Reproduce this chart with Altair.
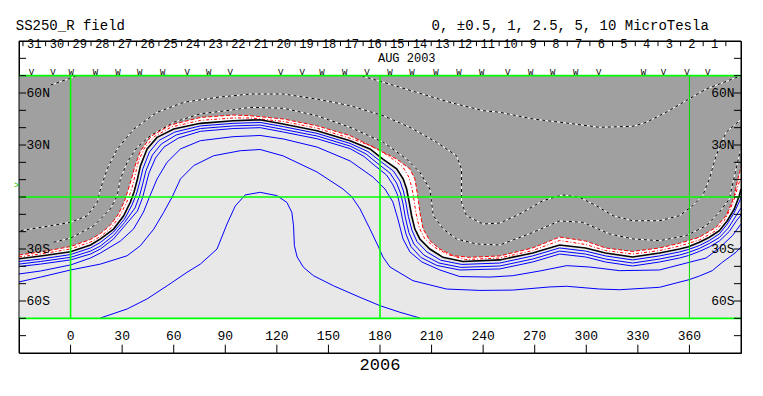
import altair as alt
import pandas as pd

# ---------------- contour lines (longitude, latitude) ----------------
# neutral line (0)
N_LON = [-30, -17.4, 0, 11.6, 17.4, 25.0, 30.8, 34.8, 36.9, 38.9, 40.6, 44.5, 50.3, 60.0, 75.5, 94.6, 110.3, 123.7, 143.4, 162.6, 174.2, 181.7, 189.7, 193.5, 195.5, 197.0, 198.4, 200.3, 203.2, 209.0, 216.6, 228.2, 249.7, 268.8, 284.5, 299.6, 311.2, 326.9, 342.6, 354.2, 359.4, 365.8, 371.6, 377.4, 382.0, 386.1, 389.0, 390]
N_LAT = [-35.6, -34.0, -31.6, -27.7, -24.2, -18.5, -11.0, -2.9, 2.9, 10.4, 17.9, 27.7, 34.4, 39.2, 42.5, 44.0, 44.6, 42.1, 38.2, 32.5, 27.7, 21.9, 16.2, 10.4, 4.6, -3.1, -10.8, -18.5, -24.2, -30.0, -34.8, -37.2, -36.3, -32.3, -27.7, -29.4, -32.3, -34.6, -32.3, -30.0, -28.7, -26.1, -23.2, -19.4, -13.7, -6.9, 0.75, 4.6]

# negative contours (red)
R1_LON = [-30, -17.4, 0, 11.6, 17.4, 23.2, 27.9, 31.4, 33.1, 35.4, 37.5, 40.6, 47.0, 58.1, 75.5, 94.6, 104.5, 123.8, 143.2, 162.6, 178.1, 189.7, 197.4, 200.3, 201.3, 202.2, 203.2, 205.1, 209.0, 214.8, 222.6, 232.3, 249.7, 268.8, 284.5, 299.6, 311.2, 326.9, 342.6, 354.2, 365.8, 375.5, 381.3, 384.4, 386.1, 387.8, 390]
R1_LAT = [-33.5, -31.7, -28.6, -24.5, -21.1, -16.2, -9.8, -2.3, 2.9, 10.4, 17.9, 26.5, 35.2, 41.5, 45.9, 47.3, 46.9, 45.0, 41.1, 35.4, 27.7, 21.9, 16.2, 10.4, 4.6, -1.2, -8.8, -18.5, -25.2, -30.0, -33.9, -34.8, -34.0, -29.4, -23.1, -25.4, -29.4, -31.4, -29.4, -26.7, -23.2, -17.5, -10.8, -4.0, 0.75, 8.7, 17.3]
R2_LON = [-30, -17.4, 0, 11.6, 17.4, 23.2, 27.9, 31.4, 34.0, 36.0, 37.7, 39.5, 43.0, 48.8, 58.6, 75.5, 94.6, 104.5, 123.7, 143.4, 162.6, 176.0, 185.8, 193.3, 196.8, 198.6, 199.7, 200.9, 202.9, 206.1, 211.9, 219.5, 229.9, 249.7, 268.8, 284.5, 299.6, 311.2, 326.9, 342.6, 354.2, 365.8, 375.1, 380.3, 383.8, 386.1, 388.4, 390]
R2_LAT = [-34.6, -32.9, -30.0, -26.0, -22.8, -18.2, -12.1, -5.5, 0, 6.3, 13.3, 20.8, 28.3, 34.9, 40.4, 44.2, 45.6, 45.6, 43.6, 39.7, 33.9, 29.1, 23.1, 17.3, 11.5, 5.2, -1.2, -9.2, -17.9, -24.2, -29.1, -33.2, -36.1, -35.2, -30.9, -25.1, -27.4, -30.9, -32.9, -30.9, -28.3, -24.8, -19.6, -13.6, -6.9, -1.2, 6.9, 11.5]

# positive contours (blue)
B1_LON = [-30, -17.4, 0, 11.6, 17.4, 25.0, 31.4, 35.7, 38.3, 40.4, 42.1, 45.9, 51.4, 60.7, 75.5, 94.6, 110.3, 123.7, 143.4, 162.6, 173.0, 180.0, 187.8, 191.6, 193.6, 195.1, 196.5, 198.6, 201.5, 207.3, 215.4, 227.6, 249.7, 268.8, 284.5, 299.6, 311.2, 326.9, 342.6, 354.2, 359.4, 365.8, 371.6, 377.4, 382.0, 386.1, 390]
B1_LAT = [-37.2, -35.8, -33.2, -29.4, -26.2, -20.2, -12.7, -4.6, 1.7, 9.2, 16.4, 26.0, 32.6, 37.5, 41.0, 42.5, 43.0, 40.6, 36.7, 30.9, 26.2, 20.8, 15.0, 9.2, 3.5, -3.5, -11.2, -19.3, -25.7, -31.7, -36.5, -38.9, -38.1, -34.0, -29.4, -31.2, -34.0, -36.3, -34.0, -31.7, -30.3, -28.0, -25.1, -21.3, -15.6, -8.9, -0.6]
B2_LON = [-30, -17.4, 0, 11.6, 17.4, 25.0, 31.4, 37.5, 40.1, 42.1, 43.8, 47.6, 52.8, 61.5, 75.5, 94.6, 110.3, 123.7, 143.4, 162.6, 171.9, 178.3, 185.8, 189.6, 191.9, 193.4, 194.8, 196.8, 199.7, 205.5, 214.3, 227.0, 249.7, 268.8, 284.5, 299.6, 311.2, 326.9, 342.6, 354.2, 359.4, 365.8, 371.6, 377.4, 382.6, 386.7, 390]
B2_LAT = [-38.7, -37.2, -34.8, -31.2, -28.3, -22.2, -14.7, -6.3, 0.6, 8.1, 15.0, 24.2, 30.6, 35.8, 39.5, 41.0, 41.5, 39.0, 35.2, 29.4, 24.8, 19.6, 13.8, 8.1, 2.3, -4.0, -12.1, -20.5, -27.1, -33.5, -38.1, -40.6, -39.8, -35.8, -31.2, -32.9, -35.8, -38.1, -35.8, -33.5, -32.0, -29.7, -26.8, -23.4, -17.9, -11.5, -6.3]
B3_LON = [-30, -17.4, 0, 11.6, 17.4, 25.0, 31.4, 38.9, 41.8, 43.8, 45.6, 49.4, 54.3, 62.7, 75.5, 94.6, 110.3, 123.7, 143.4, 162.6, 170.7, 176.5, 183.8, 187.6, 190.2, 191.6, 193.1, 195.1, 198.0, 203.8, 213.1, 226.4, 249.7, 268.8, 284.5, 299.6, 311.2, 326.9, 342.6, 354.2, 359.4, 365.8, 371.6, 377.4, 383.2, 387.3, 390]
B3_LAT = [-40.1, -38.7, -36.3, -32.9, -30.0, -24.2, -16.7, -8.1, -0.6, 6.9, 13.8, 22.5, 28.8, 34.0, 37.9, 39.5, 40.0, 37.5, 33.6, 27.9, 23.4, 18.5, 12.7, 6.9, 1.2, -5.2, -13.0, -21.3, -28.6, -34.9, -39.5, -42.1, -41.5, -37.5, -32.9, -34.6, -37.5, -39.8, -37.5, -35.2, -33.8, -31.4, -28.8, -25.4, -19.9, -13.8, -10.4]
B4_LON = [-30, -17.4, 0, 11.6, 17.4, 29.0, 36.6, 42.4, 45.9, 50.3, 56.1, 63.9, 75.5, 94.6, 110.3, 123.7, 143.4, 162.6, 175.9, 182.9, 187.5, 190.4, 193.4, 197.4, 204.4, 214.8, 226.4, 243.9, 257.2, 272.9, 288.6, 302.0, 319.4, 342.6, 359.8, 369.7, 377.4, 385.0, 390]
B4_LAT = [-44.4, -42.7, -39.2, -35.2, -32.3, -25.4, -18.5, -8.7, 0, 10.4, 20.0, 27.7, 32.5, 34.8, 35.5, 33.5, 28.8, 20.8, 11.5, 4.6, -2.9, -12.7, -24.2, -31.7, -37.5, -42.1, -45.9, -46.2, -45.4, -42.7, -39.6, -40.4, -42.5, -42.1, -37.7, -35.2, -29.4, -22.3, -15.6]
B5_LON = [-30, -17.4, 0, 17.4, 32.9, 40.6, 48.4, 54.2, 59.1, 63.9, 71.6, 83.2, 98.7, 110.3, 123.7, 143.4, 158.5, 163.7, 168.4, 174.2, 178.9, 181.7, 185.8, 199.2, 218.7, 238.1, 257.2, 278.7, 288.6, 307.8, 319.4, 342.6, 359.8, 365.8, 373.3, 379.1, 387.1, 390]
B5_LAT = [-49.0, -46.2, -42.1, -38.7, -33.9, -28.1, -18.5, -8.8, 0, 10.4, 18.1, 23.8, 26.7, 27.4, 23.7, 14.4, 4.6, 0, -6.9, -18.5, -28.3, -34.6, -40.4, -48.3, -53.1, -53.9, -53.7, -51.9, -51.5, -53.1, -53.5, -52.1, -47.7, -45.6, -42.5, -37.7, -31.9, -28.8]
B6_LON = [17.4, 32.9, 44.5, 56.2, 67.8, 75.5, 85.2, 91.0, 95.8, 101.6, 110.3, 120.0, 125.8, 128.7, 129.7, 130.2, 131.8, 135.5, 141.3, 152.9, 168.4, 180.0, 191.6, 203.2]
B6_LAT = [-69.8, -64.6, -58.8, -51.2, -43.4, -38.7, -30.0, -15.6, -5.2, 1.2, 2.7, 0.8, -3.1, -8.8, -16.6, -28.1, -34.6, -40.6, -45.4, -51.2, -57.9, -62.7, -66.5, -69.8]

# stronger negative contours (black/white dashed)
D1_LON = [-9.9, 0, 13.5, 23.2, 27.1, 29.0, 32.9, 38.7, 46.5, 60.0, 75.5, 94.8, 104.5, 123.9, 143.2, 162.6, 181.9, 195.5, 203.2, 209.0, 210.0, 211.0, 216.8, 224.5, 236.1, 249.7, 269.0, 284.5, 298.0, 313.5, 327.1, 342.6, 358.1, 369.7, 377.4, 383.2, 387.1, 389.6]
D1_LAT = [-26.1, -23.7, -16.6, -6.9, 0.75, 10.4, 20.0, 28.7, 35.4, 43.1, 48.0, 50.3, 51.7, 51.2, 46.9, 40.2, 31.6, 21.9, 14.2, 4.6, -3.1, -10.8, -18.5, -24.2, -27.1, -27.7, -20.4, -13.8, -14.6, -21.3, -24.2, -25.2, -22.3, -16.6, -8.8, -1.2, 16.2, 26.5]
D2_LON = [-29.0, -11.6, 0, 9.7, 15.5, 17.4, 21.3, 27.1, 36.8, 50.3, 65.8, 85.2, 104.5, 123.9, 143.2, 162.6, 181.9, 197.4, 212.9, 224.5, 227.4, 227.4, 230.3, 240.0, 249.7, 261.3, 274.8, 286.4, 296.1, 305.8, 315.5, 327.1, 342.6, 354.2, 361.9, 367.7, 371.6, 375.5, 381.3, 389.6]
D2_LAT = [-19.4, -16.6, -14.6, -10.8, -3.1, 4.6, 16.2, 27.7, 39.2, 48.9, 54.6, 57.5, 59.4, 59.4, 56.5, 52.7, 46.9, 40.2, 31.6, 23.8, 16.2, -3.1, -10.8, -15.6, -15.0, -9.8, -2.1, 1.2, -0.2, -5.0, -10.8, -13.7, -13.7, -10.8, -5.0, 0.75, 10.4, 23.8, 37.3, 44.4]
D3_LON = [169.5, 181.9, 201.3, 220.6, 240.0, 249.7, 269.0, 288.4, 307.8, 327.1, 334.9, 346.5, 358.1, 369.7, 377.4, 389.6]
D3_LAT = [69.8, 66.2, 60.4, 54.6, 49.8, 48.9, 45.0, 42.7, 40.2, 40.8, 43.1, 48.9, 55.6, 62.3, 65.2, 69.8]
D4_LON = [-11.6, -9.9, 0, 2.9]
D4_LAT = [64.6, 65.2, 68.5, 69.8]

# ---------------- axes / header ----------------
LAT_TICKS = [-80, -70, -60, -50, -40, -30, -20, -10, 0, 10, 20, 30, 40, 50, 60, 70, 80]
LAT_LABEL_VALUES = [60, 30, -30, -60]
LAT_LABELS = ["60N", "30N", "30S", "60S"]
LON_TICKS = [0, 30, 60, 90, 120, 150, 180, 210, 240, 270, 300, 330, 360]
GREEN_LON = [0, 180]
GREEN_LAT = [-70, 0, 70]

DAYS = ["31", "30", "29", "28", "27", "26", "25", "24", "23", "22", "21", "20", "19", "18", "17", "16",
        "15", "14", "13", "12", "11", "10", "9", "8", "7", "6", "5", "4", "3", "2", "1"]
DAY_LON = [-21.1, -7.9, 5.3, 18.5, 31.7, 44.9, 58.1, 71.2, 84.4, 97.6, 110.8, 124.0, 137.2, 150.4, 163.6, 176.8,
           190.0, 203.2, 216.3, 229.5, 242.7, 255.9, 269.1, 282.3, 295.5, 308.7, 321.9, 335.1, 348.3, 361.4, 374.6]
DAY_SEP_LON = [-27.7, -14.5, -1.3, 11.9, 25.1, 38.3, 51.4, 64.6, 77.8, 91.0, 104.2, 117.4, 130.6, 143.8, 157.0, 170.2,
               183.4, 196.6, 209.8, 222.9, 236.1, 249.3, 262.5, 275.7, 288.9, 302.1, 315.3, 328.5, 341.7, 354.9, 368.0, 381.2]
SECTOR_LON = [-22.8, -10.3, 0.4, 14.5, 27.5, 40.2, 53.6, 67.8, 80.3, 92.9, 122.3, 134.7, 146.3, 159.4, 172.4, 185.8,
              198.6, 212.5, 225.9, 239.2, 254.3, 267.7, 280.4, 293.8, 307.2, 333.3, 344.9, 358.5, 370.6]
SECTOR = ["V", "V", "W", "W", "W", "W", "W", "V", "W", "V", "V", "V", "W", "W", "V", "W",
          "W", "W", "W", "W", "V", "W", "W", "W", "V", "W", "V", "V", "V"]

FONT = "Liberation Mono"


def line_frame(name, lons, lats):
    n = min(len(lons), len(lats))
    return pd.DataFrame({"line": [name] * n, "i": list(range(n)),
                         "lon": list(lons[:n]), "lat": list(lats[:n])})


XS = alt.Scale(domain=[-30, 390], nice=False, zero=False)
YS = alt.Scale(domain=[-90, 90], nice=False, zero=False)


def X(f="lon"):
    return alt.X(f"{f}:Q", scale=XS, axis=None)


def Y(f="lat"):
    return alt.Y(f"{f}:Q", scale=YS, axis=None)


layers = []

# light background of the map
bg = pd.DataFrame({"lon": [-30], "lon2": [390], "lat": [-70], "lat2": [70]})
layers.append(alt.Chart(bg).mark_rect(color="#e8e8e8").encode(x=X(), x2="lon2:Q", y=Y(), y2="lat2:Q"))

# white band: above neutral line
n_df = line_frame("N", N_LON, N_LAT)
n_df["top"] = 70
layers.append(alt.Chart(n_df).mark_area(color="#ffffff", opacity=1).encode(x=X(), y=Y(), y2="top:Q"))

# dark grey negative region: above outer red contour
r1_df = line_frame("R1", R1_LON, R1_LAT)
r1_df["top"] = 70
layers.append(alt.Chart(r1_df).mark_area(color="#a0a0a0", opacity=1).encode(x=X(), y=Y(), y2="top:Q"))

# dashed black/white contours
d_df = pd.concat([line_frame("D1", D1_LON, D1_LAT), line_frame("D2", D2_LON, D2_LAT),
                  line_frame("D3", D3_LON, D3_LAT), line_frame("D4", D4_LON, D4_LAT)])
layers.append(alt.Chart(d_df).mark_line(color="#ffffff", strokeWidth=1).encode(
    x=X(), y=Y(), detail="line:N", order="i:Q"))
layers.append(alt.Chart(d_df).mark_line(color="#000000", strokeWidth=1, strokeDash=[3, 3]).encode(
    x=X(), y=Y(), detail="line:N", order="i:Q"))

# red contours
layers.append(alt.Chart(r1_df).mark_line(color="#ff0000", strokeWidth=1, strokeDash=[4, 2]).encode(
    x=X(), y=Y(), order="i:Q"))
layers.append(alt.Chart(line_frame("R2", R2_LON, R2_LAT)).mark_line(
    color="#ff0000", strokeWidth=1, strokeDash=[3, 2, 1, 2]).encode(x=X(), y=Y(), order="i:Q"))

# blue contours
b_df = pd.concat([line_frame("B1", B1_LON, B1_LAT), line_frame("B2", B2_LON, B2_LAT),
                  line_frame("B3", B3_LON, B3_LAT), line_frame("B4", B4_LON, B4_LAT),
                  line_frame("B5", B5_LON, B5_LAT), line_frame("B6", B6_LON, B6_LAT)])
layers.append(alt.Chart(b_df).mark_line(color="#0000ff", strokeWidth=1).encode(
    x=X(), y=Y(), detail="line:N", order="i:Q"))

# neutral line
layers.append(alt.Chart(n_df).mark_line(color="#000000", strokeWidth=1.6).encode(x=X(), y=Y(), order="i:Q"))

# green grid
gv = pd.DataFrame({"lon": GREEN_LON, "lat": [-70] * len(GREEN_LON), "lat2": [70] * len(GREEN_LON)})
layers.append(alt.Chart(gv).mark_rule(color="#00ff00", strokeWidth=1.6).encode(x=X(), y=Y(), y2="lat2:Q"))
gv2 = pd.DataFrame({"lon": [360], "lat": [-70], "lat2": [70]})
layers.append(alt.Chart(gv2).mark_rule(color="#00e000", strokeWidth=1).encode(x=X(), y=Y(), y2="lat2:Q"))
gh = pd.DataFrame({"lat": GREEN_LAT, "lon": [-30] * len(GREEN_LAT), "lon2": [390] * len(GREEN_LAT)})
layers.append(alt.Chart(gh).mark_rule(color="#00ff00", strokeWidth=1.6).encode(x=X(), x2="lon2:Q", y=Y()))

# frame
frame = pd.DataFrame({"lon": [-30, 390, -30, -30], "lon2": [-30, 390, 390, 390],
                      "lat": [-90, -90, 90, -90], "lat2": [90, 90, 90, -90]})
layers.append(alt.Chart(frame).mark_rule(color="#000000", strokeWidth=1).encode(
    x=X(), x2="lon2:Q", y=Y(), y2="lat2:Q"))

# latitude ticks (inward, both sides)
lt = pd.DataFrame({"lat": LAT_TICKS * 2,
                   "lon": [-30] * len(LAT_TICKS) + [385.9] * len(LAT_TICKS),
                   "lon2": [-25.9] * len(LAT_TICKS) + [390] * len(LAT_TICKS)})
layers.append(alt.Chart(lt).mark_rule(color="#000000", strokeWidth=1).encode(x=X(), x2="lon2:Q", y=Y()))

# longitude ticks (bottom, inward)
bt = pd.DataFrame({"lon": LON_TICKS, "lat": [-90] * len(LON_TICKS), "lat2": [-85.2] * len(LON_TICKS)})
layers.append(alt.Chart(bt).mark_rule(color="#000000", strokeWidth=1).encode(x=X(), y=Y(), y2="lat2:Q"))

# day separators in header
ds = pd.DataFrame({"lon": DAY_SEP_LON, "lat": [90] * len(DAY_SEP_LON), "lat2": [87.0] * len(DAY_SEP_LON)})
layers.append(alt.Chart(ds).mark_rule(color="#000000", strokeWidth=1).encode(x=X(), y=Y(), y2="lat2:Q"))

# texts
lon_lab = pd.DataFrame({"lon": LON_TICKS, "lat": [-80.3] * len(LON_TICKS), "t": [str(v) for v in LON_TICKS]})
layers.append(alt.Chart(lon_lab).mark_text(font=FONT, fontSize=13, baseline="middle", align="center",
                                           color="#000000").encode(x=X(), y=Y(), text="t:N"))

lat_lab_l = pd.DataFrame({"lon": [-25.6] * 4, "lat": LAT_LABEL_VALUES, "t": LAT_LABELS})
layers.append(alt.Chart(lat_lab_l).mark_text(font=FONT, fontSize=13, baseline="middle", align="left",
                                             color="#000000").encode(x=X(), y=Y(), text="t:N"))
lat_lab_r = pd.DataFrame({"lon": [386.3] * 4, "lat": LAT_LABEL_VALUES, "t": LAT_LABELS})
layers.append(alt.Chart(lat_lab_r).mark_text(font=FONT, fontSize=13, baseline="middle", align="right",
                                             color="#000000").encode(x=X(), y=Y(), text="t:N"))

day_df = pd.DataFrame({"lon": DAY_LON, "lat": [85.8] * len(DAY_LON), "t": DAYS})
layers.append(alt.Chart(day_df).mark_text(font=FONT, fontSize=12, baseline="alphabetic", align="center",
                                          color="#000000").encode(x=X(), y=Y(), text="t:N"))

sec_df = pd.DataFrame({"lon": SECTOR_LON, "lat": [70.4] * len(SECTOR_LON), "t": SECTOR})
layers.append(alt.Chart(sec_df).mark_text(font=FONT, fontSize=9, baseline="alphabetic", align="center",
                                          color="#000000").encode(x=X(), y=Y(), text="t:N"))

misc = pd.DataFrame({"lon": [178.8], "lat": [78.0], "t": ["AUG 2003"]})
layers.append(alt.Chart(misc).mark_text(font=FONT, fontSize=12, baseline="alphabetic", align="left",
                                        color="#000000").encode(x=X(), y=Y(), text="t:N"))

title_df = pd.DataFrame({"lon": [-31.9, 210.0], "lat": [96.1, 96.1],
                         "t": ["SS250_R field", "0, \u00b10.5, 1, 2.5, 5, 10 MicroTesla"]})
layers.append(alt.Chart(title_df).mark_text(font=FONT, fontSize=14, baseline="alphabetic", align="left",
                                            color="#000000").encode(x=X(), y=Y(), text="t:N"))

year_df = pd.DataFrame({"lon": [180], "lat": [-99.8], "t": ["2006"]})
layers.append(alt.Chart(year_df).mark_text(font=FONT, fontSize=17, baseline="alphabetic", align="center",
                                           color="#000000", fontWeight="normal").encode(x=X(), y=Y(), text="t:N"))

mark_df = pd.DataFrame({"lon": [-31.3], "lat": [6.9], "t": [">"]})
layers.append(alt.Chart(mark_df).mark_text(font=FONT, fontSize=9, baseline="middle", align="center",
                                           color="#00c000").encode(x=X(), y=Y(), text="t:N"))

chart = alt.layer(*layers).properties(
    width=722, height=312,
    autosize=alt.AutoSizeParams(type="none"),
    padding={"left": 11, "top": 33, "right": 12, "bottom": 35},
    background="#ffffff",
).configure_view(stroke="#000000", strokeWidth=1)

chart.save("out.html", embed_options={"renderer": "svg", "actions": False})
